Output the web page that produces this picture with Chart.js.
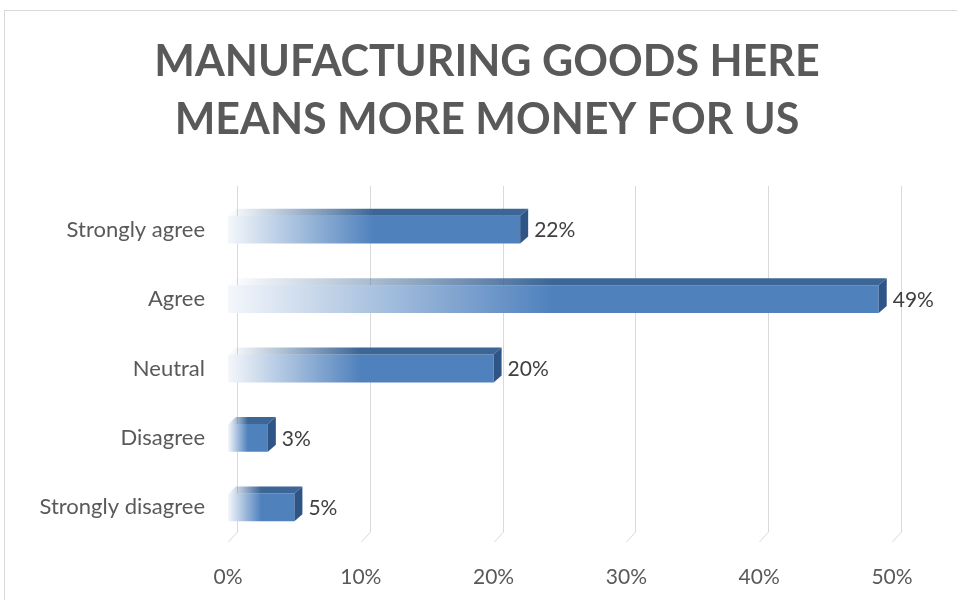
<!DOCTYPE html>
<html>
<head>
<meta charset="utf-8">
<script src="https://cdn.jsdelivr.net/npm/chart.js@4.4.1/dist/chart.umd.min.js"></script>
<style>
  html, body { margin: 0; padding: 0; background: #fff; overflow: hidden; }
  #frame {
    position: absolute; left: 4px; top: 10px; width: 1000px; height: 700px;
    border: 1px solid #d9d9d9; box-sizing: border-box;
  }
  #wrap { position: absolute; left: 0; top: 0; width: 957px; height: 600px; }
</style>
</head>
<body>
<div id="frame"></div>
<div id="wrap"><canvas id="chart" width="957" height="600"></canvas></div>
<script>
const categories = ["Strongly agree", "Agree", "Neutral", "Disagree", "Strongly disagree"];
const shares = [22, 49, 20, 3, 5];
const tickValues = [0, 10, 20, 30, 40, 50];
const titleLines = ["MANUFACTURING GOODS HERE", "MEANS MORE MONEY FOR US"];

const FONT = "Lato, 'Open Sans', sans-serif";
const DEPTH_X = 8;  // 3d offset of the top and side faces
const DEPTH_Y = 7;
const WALL_X = 9;   // back wall sits a bit right of the floor edge
const WALL_TOP = 186;
const FLOOR_DROP = 10;

// fade from near white on the left into the solid blue
function barFill(context) {
  const chart = context.chart;
  if (!chart.chartArea) return "#4f81bd";
  const x0 = chart.scales.x.getPixelForValue(0);
  const x1 = chart.scales.x.getPixelForValue(context.raw);
  const g = chart.ctx.createLinearGradient(x0, 0, x1, 0);
  g.addColorStop(0, "#f4f7fb");
  g.addColorStop(0.5, "#4f81bd");
  g.addColorStop(1, "#4f81bd");
  return g;
}

// two line heading, centred over the whole frame
const heading = {
  id: "heading",
  afterDraw(chart) {
    const ctx = chart.ctx;
    ctx.save();
    ctx.fillStyle = "#595959";
    ctx.font = "bold 43px " + FONT;
    ctx.textAlign = "center";
    ctx.textBaseline = "middle";
    titleLines.forEach((line, i) => ctx.fillText(line, 487, 62 + i * 58));
    ctx.restore();
  }
};

// gridlines on the back wall, bending onto the floor at the bottom
const wallGrid = {
  id: "wallGrid",
  beforeDatasetsDraw(chart) {
    const ctx = chart.ctx;
    const xs = chart.scales.x;
    const bottom = chart.chartArea.bottom;
    ctx.save();
    ctx.strokeStyle = "#d9d9d9";
    ctx.lineWidth = 1;
    tickValues.forEach(v => {
      const px = Math.round(xs.getPixelForValue(v)) + 0.5;
      ctx.beginPath();
      ctx.moveTo(px + WALL_X, WALL_TOP);
      ctx.lineTo(px + WALL_X, bottom - FLOOR_DROP);
      ctx.lineTo(px, bottom);
      ctx.stroke();
    });
    ctx.restore();
  }
};

const boxFaces = {
  id: "boxFaces",
  afterDatasetsDraw(chart) {
    const ctx = chart.ctx;
    const meta = chart.getDatasetMeta(0);
    meta.data.forEach((bar, i) => {
      const top = bar.y - bar.height / 2;
      const bottom = bar.y + bar.height / 2;
      const left = bar.base;
      const right = bar.x;

      // top face
      const gt = ctx.createLinearGradient(left, 0, right, 0);
      gt.addColorStop(0, "rgba(60,102,150,0)");
      gt.addColorStop(0.5, "#3c6696");
      gt.addColorStop(1, "#3c6696");
      ctx.save();
      ctx.fillStyle = gt;
      ctx.beginPath();
      ctx.moveTo(left, top);
      ctx.lineTo(left + DEPTH_X, top - DEPTH_Y);
      ctx.lineTo(right + DEPTH_X, top - DEPTH_Y);
      ctx.lineTo(right, top);
      ctx.closePath();
      ctx.fill();

      // right side face
      ctx.fillStyle = "#2f5486";
      ctx.beginPath();
      ctx.moveTo(right, top);
      ctx.lineTo(right + DEPTH_X, top - DEPTH_Y);
      ctx.lineTo(right + DEPTH_X, bottom - DEPTH_Y);
      ctx.lineTo(right, bottom);
      ctx.closePath();
      ctx.fill();

      // value label
      ctx.fillStyle = "#404040";
      ctx.font = "21px " + FONT;
      ctx.textAlign = "left";
      ctx.textBaseline = "middle";
      ctx.fillText(shares[i] + "%", right + DEPTH_X + 6, bar.y + 1);
      ctx.restore();
    });
  }
};

new Chart(document.getElementById("chart"), {
  type: "bar",
  data: {
    labels: categories,
    datasets: [{
      data: shares,
      backgroundColor: barFill,
      borderWidth: 0,
      barPercentage: 0.40,
      categoryPercentage: 1
    }]
  },
  options: {
    indexAxis: "y",
    responsive: false,
    animation: false,
    layout: { padding: { left: 0, right: 65, top: 195, bottom: 0 } },
    plugins: {
      legend: { display: false },
      tooltip: { enabled: false },
      title: { display: false }
    },
    scales: {
      x: {
        min: 0,
        max: 50,
        afterBuildTicks(scale) {
          scale.ticks = tickValues.map(v => ({ value: v }));
        },
        afterFit(scale) { scale.height = 58; },
        grid: { display: false, drawTicks: false },
        border: { display: false },
        ticks: {
          color: "#595959",
          padding: 23,
          font: { family: FONT, size: 21 },
          callback: v => v + "%"
        }
      },
      y: {
        afterFit(scale) { scale.width = 228; },
        grid: { display: false, drawTicks: false },
        border: { display: false },
        ticks: {
          color: "#595959",
          padding: 23,
          font: { family: FONT, size: 22 }
        }
      }
    }
  },
  plugins: [wallGrid, boxFaces, heading]
});
</script>
</body>
</html>
